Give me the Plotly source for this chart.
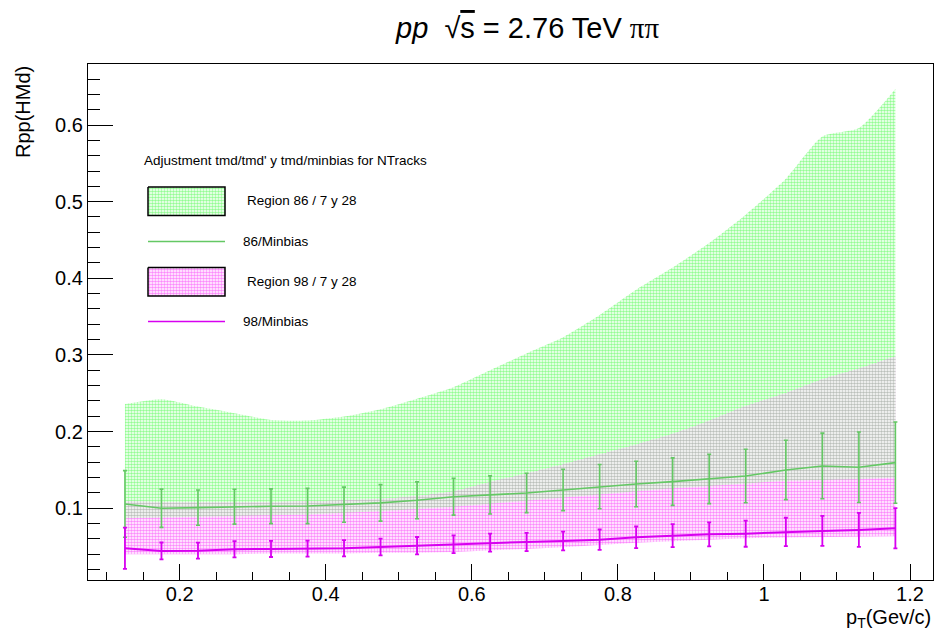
import numpy as np
import plotly.graph_objects as go

# pT bin centres (GeV/c)
pt = [0.125, 0.175, 0.225, 0.275, 0.325, 0.375, 0.425, 0.475, 0.525, 0.575, 0.625,
      0.675, 0.725, 0.775, 0.825, 0.875, 0.925, 0.975, 1.03, 1.08, 1.13, 1.18]

# 86/Minbias ratio and its uncertainty
r86 = [0.1056, 0.100, 0.1008, 0.102, 0.1026, 0.103, 0.1047, 0.107, 0.1104, 0.1151, 0.1174,
       0.120, 0.1239, 0.1282, 0.1317, 0.1347, 0.1383, 0.142, 0.150, 0.1552, 0.1535, 0.1595]
e86 = [0.0435, 0.025, 0.023, 0.0227, 0.0227, 0.023, 0.0229, 0.0238, 0.024, 0.024, 0.0249,
       0.0257, 0.027, 0.0288, 0.0297, 0.031, 0.0322, 0.0349, 0.0387, 0.0428, 0.046, 0.053]

# 98/Minbias ratio and its uncertainty
r98 = [0.0478, 0.0443, 0.0447, 0.0465, 0.0469, 0.0473, 0.0478, 0.0495, 0.0512, 0.053, 0.0551,
       0.056, 0.0573, 0.059, 0.0621, 0.0642, 0.066, 0.0668, 0.0691, 0.0704, 0.0717, 0.0739]
e98 = [0.027, 0.011, 0.0105, 0.0105, 0.0105, 0.0105, 0.0105, 0.0109, 0.0113, 0.0115, 0.0117,
       0.0119, 0.0122, 0.0133, 0.0141, 0.015, 0.0157, 0.017, 0.0185, 0.0196, 0.0222, 0.0263]

# Region 86 / 7 y 28 band
band86_lo = [0.087, 0.088, 0.089, 0.090, 0.091, 0.092, 0.094, 0.096, 0.099, 0.102, 0.106,
             0.110, 0.114, 0.118, 0.122, 0.126, 0.129, 0.132, 0.136, 0.137, 0.138, 0.140]
band86_hi = [0.236, 0.2423, 0.2327, 0.224, 0.2153, 0.2144, 0.2196, 0.2292, 0.243, 0.258, 0.280,
             0.302, 0.323, 0.352, 0.385, 0.414, 0.446, 0.483, 0.530, 0.585, 0.596, 0.647]

# Region 98 / 7 y 28 band
band98_lo = [0.040, 0.040, 0.040, 0.040, 0.041, 0.041, 0.041, 0.042, 0.042, 0.043, 0.045,
             0.047, 0.049, 0.052, 0.055, 0.057, 0.059, 0.061, 0.062, 0.0625, 0.063, 0.0635]
band98_hi = [0.109, 0.108, 0.108, 0.108, 0.108, 0.109, 0.110, 0.112, 0.116, 0.122, 0.134,
             0.145, 0.157, 0.170, 0.183, 0.197, 0.214, 0.233, 0.250, 0.268, 0.282, 0.298]

GREEN_DOT = "rgb(40,250,40)"
MAG_DOT = "rgb(250,20,250)"
GREY_DOT = "rgb(120,130,120)"
GREEN_LINE = "rgb(100,200,100)"
MAG_LINE = "rgb(215,0,240)"
FONT = "Liberation Sans, Arial, Helvetica, sans-serif"


def pattern(color):
    return dict(shape=".", fgcolor=color, bgcolor="white", size=3, solidity=0.55)


fig = go.Figure()


def add_band(lo, hi, color, hi_shape):
    fig.add_trace(go.Scatter(x=pt, y=lo, mode="lines", line=dict(width=0, color=color),
                             showlegend=False, hoverinfo="skip"))
    fig.add_trace(go.Scatter(x=pt, y=hi, mode="lines",
                             line=dict(width=0, color=color, shape=hi_shape, smoothing=0.6),
                             fill="tonexty", fillcolor="white", fillpattern=pattern(color),
                             showlegend=False, hoverinfo="skip"))


add_band(band86_lo, band86_hi, GREEN_DOT, "spline")
add_band(band98_lo, band98_hi, MAG_DOT, "spline")
# where both bands overlap the two dot patterns blend to grey
overlap_lo = np.maximum(band86_lo, band98_lo)
overlap_hi = np.minimum(band86_hi, band98_hi)
add_band(overlap_lo, overlap_hi, GREY_DOT, "spline")

fig.add_trace(go.Scatter(x=pt, y=r86, mode="lines", line=dict(color=GREEN_LINE, width=1.6),
                         error_y=dict(type="data", array=e86, color=GREEN_LINE, thickness=1.6, width=2),
                         showlegend=False))
fig.add_trace(go.Scatter(x=pt, y=r98, mode="lines", line=dict(color=MAG_LINE, width=2),
                         error_y=dict(type="data", array=e98, color=MAG_LINE, thickness=1.8, width=2),
                         showlegend=False))

# legend drawn on an overlay axis measured in pixels of the plotting frame
L, R, T, B = 88, 933, 64, 580


def swatch(x0, x1, y0, y1, color):
    fig.add_trace(go.Scatter(x=[x0, x1, x1, x0, x0], y=[y0, y0, y1, y1, y0], mode="lines",
                             xaxis="x2", yaxis="y2", fill="toself", fillcolor="white",
                             fillpattern=pattern(color), line=dict(color="black", width=1.5),
                             showlegend=False, hoverinfo="skip"))


def sample_line(x0, x1, y, color, w):
    fig.add_trace(go.Scatter(x=[x0, x1], y=[y, y], mode="lines", xaxis="x2", yaxis="y2",
                             line=dict(color=color, width=w), showlegend=False, hoverinfo="skip"))


swatch(148, 225, 187, 215.5, GREEN_DOT)
sample_line(148, 225, 241.5, GREEN_LINE, 1.3)
swatch(148, 225, 267.5, 296, MAG_DOT)
sample_line(148, 225, 321.5, MAG_LINE, 1.6)

legend_text = [
    (142, 160, "Adjustment tmd/tmd' y tmd/minbias for NTracks"),
    (245, 200, "Region 86 / 7 y 28"),
    (241, 241.5, "86/Minbias"),
    (245, 281, "Region 98 / 7 y 28"),
    (241, 321.5, "98/Minbias"),
]
annotations = [dict(x=x, y=y, xref="x2", yref="y2", text=t, showarrow=False, xanchor="left",
                    yanchor="middle", font=dict(family=FONT, size=13.5, color="black"))
               for x, y, t in legend_text]

W, H = 938, 635
pw, ph = R - L, B - T
annotations += [
    dict(x=(527 - L) / pw, y=(B - 28) / ph, xref="paper", yref="paper", showarrow=False,
         xanchor="center", yanchor="middle",
         text="<i>pp</i>  √<span style='text-decoration:overline'>s</span> = 2.76 TeV "
              "<span style='font-family:Liberation Serif, Times New Roman, serif'>ππ</span>",
         font=dict(family=FONT, size=29, color="black")),
    dict(x=(23 - L) / pw, y=1, xref="paper", yref="paper", showarrow=False, textangle=-90,
         xanchor="center", yanchor="top", text="Rpp(HMd)",
         font=dict(family=FONT, size=20, color="black")),
    dict(x=1, y=(B - 604) / ph, xref="paper", yref="paper", showarrow=False,
         xanchor="right", yanchor="top", text="p<sub>T</sub>(Gev/c)",
         font=dict(family=FONT, size=20, color="black")),
]

axis_common = dict(showgrid=False, zeroline=False, showline=True, linecolor="black", linewidth=1.3,
                   mirror=True, ticks="inside", tickcolor="black",
                   tickfont=dict(family=FONT, size=20, color="black"))

fig.update_layout(
    width=W, height=H,
    margin=dict(l=L, r=W - R, t=T, b=H - B),
    paper_bgcolor="white", plot_bgcolor="white",
    xaxis=dict(range=[0.0744, 1.2315], dtick=0.2, tick0=0, ticklen=16, tickwidth=1.3,
               ticklabelstandoff=-4,
               minor=dict(dtick=0.05, tick0=0, ticks="inside", ticklen=8, tickcolor="black", tickwidth=1.3),
               **axis_common),
    yaxis=dict(range=[0.0064, 0.6796], dtick=0.1, tick0=0, ticklen=25, tickwidth=1.3,
               minor=dict(dtick=0.02, tick0=0, ticks="inside", ticklen=12, tickcolor="black", tickwidth=1.3),
               **axis_common),
    xaxis2=dict(range=[L, R], overlaying="x", anchor="y2", visible=False, fixedrange=True),
    yaxis2=dict(range=[B, T], overlaying="y", anchor="x2", visible=False, fixedrange=True),
    annotations=annotations,
    showlegend=False,
)

fig.write_html("out.html")
